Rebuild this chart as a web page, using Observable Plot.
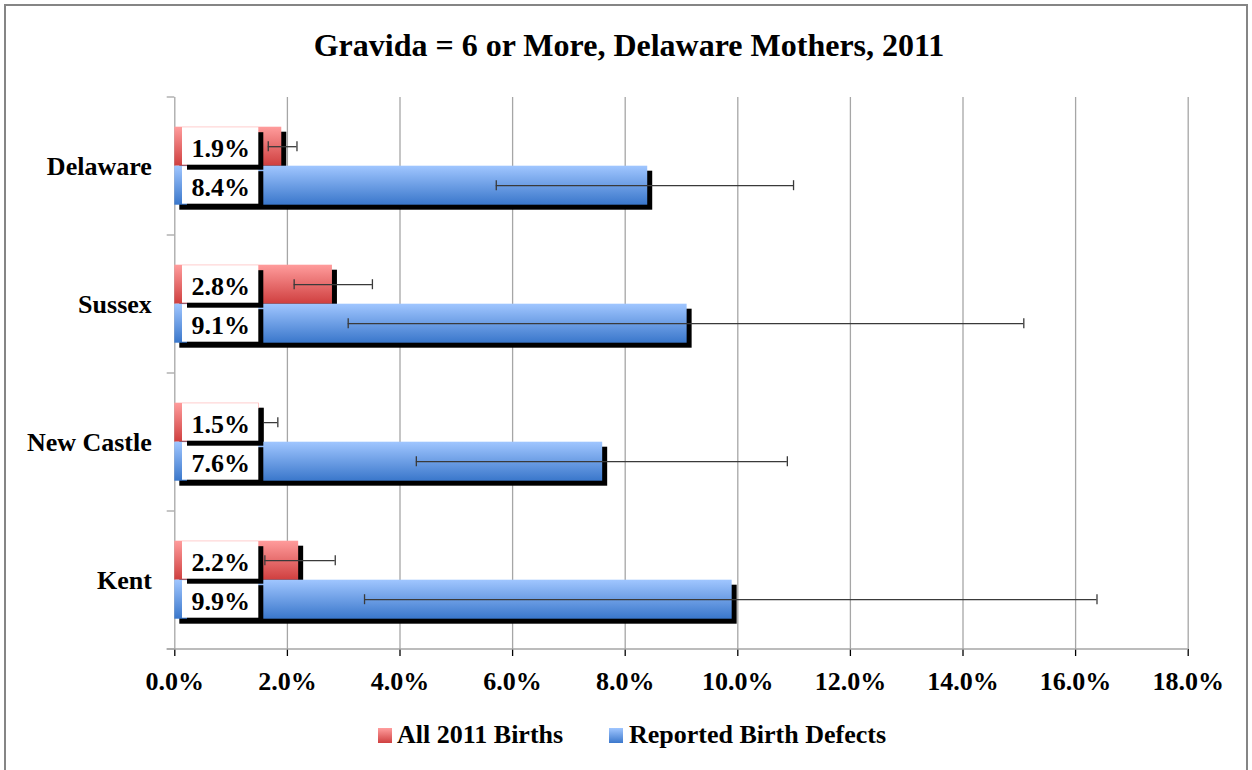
<!DOCTYPE html>
<html><head><meta charset="utf-8">
<script src="https://cdn.jsdelivr.net/npm/d3@7"></script>
<script src="https://cdn.jsdelivr.net/npm/@observablehq/plot@0.6"></script>
<style>
html,body{margin:0;padding:0;background:#fff;overflow:hidden;width:1252px;height:770px;}
#frame{position:absolute;left:4px;top:4px;width:1244px;height:800px;border:2px solid #858585;box-sizing:border-box;}
#chart{position:absolute;left:0;top:0;}
#title{position:absolute;top:29px;left:0;width:1258px;text-align:center;font:bold 32px/32px "Liberation Serif","Times New Roman",serif;color:#000;}
.lg{position:absolute;top:722px;font:bold 26px/26px "Liberation Serif","Times New Roman",serif;white-space:nowrap;color:#000;}
.sw{position:absolute;top:728px;width:14px;height:15px;}
</style>
</head><body>
<div id="frame"></div>
<div id="chart"></div>
<div id="title">Gravida = 6 or More, Delaware Mothers, 2011</div>
<div class="sw" style="left:378px;background:linear-gradient(#ff9e9e,#cf4040);"></div>
<div class="lg" style="left:397px;">All 2011 Births</div>
<div class="sw" style="left:609px;background:linear-gradient(#a0c6ff,#3c78cc);"></div>
<div class="lg" style="left:629px;">Reported Birth Defects</div>
<script>
const counties = ["Delaware", "Sussex", "New Castle", "Kent"];
const seriesNames = ["All 2011 Births", "Reported Birth Defects"];
const allBirths = [1.9, 2.8, 1.5, 2.2];
const allLow = [1.66, 2.12, 1.17, 1.60];
const allHigh = [2.17, 3.51, 1.83, 2.85];
const defects = [8.4, 9.1, 7.6, 9.9];
const defectsLow = [5.71, 3.08, 4.29, 3.37];
const defectsHigh = [10.99, 15.08, 10.88, 16.38];
const xTicks = [0, 2, 4, 6, 8, 10, 12, 14, 16, 18];

const rowsAll = counties.map((c, i) => ({county: c, series: seriesNames[0], value: allBirths[i], lo: allLow[i], hi: allHigh[i]}));
const rowsDef = counties.map((c, i) => ({county: c, series: seriesNames[1], value: defects[i], lo: defectsLow[i], hi: defectsHigh[i]}));
const rows = rowsAll.concat(rowsDef);

const grid = "#a6a6a6";
const err = "#3a3a3a";
const fmt = d => d.toFixed(1) + "%";

const plot = Plot.plot({
  width: 1252,
  height: 770,
  marginLeft: 174.3,
  marginRight: 64.3,
  marginTop: 95.3,
  marginBottom: 120.3,
  style: {fontFamily: '"Liberation Serif","Times New Roman",serif', fontSize: "26px", fontWeight: "bold", background: "transparent", color: "#000"},
  x: {domain: [0, 18], ticks: xTicks, tickFormat: fmt, tickSize: 7, tickPadding: 15, label: null},
  y: {domain: seriesNames, paddingInner: 0, paddingOuter: 0.7325, axis: null},
  fy: {domain: counties, padding: 0, axis: "left", label: null, tickSize: 0, tickPadding: 23},
  marks: [
    Plot.ruleX(xTicks, {stroke: grid, strokeWidth: 1.3}),
    Plot.barX(rows, {x: "value", y: "series", fy: "county", fill: "#000", dx: 5, dy: 5}),
    Plot.barX(rowsAll, {x: "value", y: "series", fy: "county", fill: "url(#gradRed)"}),
    Plot.barX(rowsDef, {x: "value", y: "series", fy: "county", fill: "url(#gradBlue)"}),
    Plot.ruleY(rows, {x1: "lo", x2: "hi", y: "series", fy: "county", stroke: err, strokeWidth: 1.3}),
    Plot.tickX(rows, {x: "lo", y: "series", fy: "county", stroke: err, strokeWidth: 1.3, insetTop: 14.5, insetBottom: 14.5}),
    Plot.tickX(rows, {x: "hi", y: "series", fy: "county", stroke: err, strokeWidth: 1.3, insetTop: 14.5, insetBottom: 14.5}),
    Plot.cell(rowsDef, {y: "series", fy: "county", fill: "#000", dx: 5, dy: 5, insetLeft: 7.7, insetRight: 929.4, insetTop: 0.5, insetBottom: 1}),
    Plot.cell(rowsDef, {y: "series", fy: "county", fill: "#fff", insetLeft: 7.7, insetRight: 929.4, insetTop: 0.5, insetBottom: 1}),
    Plot.cell(rowsAll, {y: "series", fy: "county", fill: "#000", dx: 5, dy: 5, insetLeft: 7.7, insetRight: 929.4, insetTop: 0.5, insetBottom: 1}),
    Plot.cell(rowsAll, {y: "series", fy: "county", fill: "#fff", insetLeft: 7.7, insetRight: 929.4, insetTop: 0.5, insetBottom: 1}),
    Plot.text(rows, {y: "series", fy: "county", text: d => fmt(d.value), frameAnchor: "left", textAnchor: "middle", dx: 46, dy: 1.5, fontSize: 26, fontWeight: "bold", fill: "#000"})
  ]
});

document.getElementById("chart").appendChild(plot);

const svg = d3.select(plot);
const defs = svg.insert("defs", ":first-child");
const gR = defs.append("linearGradient").attr("id", "gradRed").attr("x1", 0).attr("y1", 0).attr("x2", 0).attr("y2", 1);
gR.append("stop").attr("offset", "0%").attr("stop-color", "#ff9c9c");
gR.append("stop").attr("offset", "100%").attr("stop-color", "#cf3f3f");
const gB = defs.append("linearGradient").attr("id", "gradBlue").attr("x1", 0).attr("y1", 0).attr("x2", 0).attr("y2", 1);
gB.append("stop").attr("offset", "0%").attr("stop-color", "#a0c6ff");
gB.append("stop").attr("offset", "100%").attr("stop-color", "#3a77cb");

svg.selectAll('[aria-label="x-axis tick"]').attr("stroke", grid).attr("stroke-width", 1.3);

// axis line and category boundary ticks, from Plot's own scales
const xs = plot.scale("x");
const fys = plot.scale("fy");
const x0 = xs.apply(0), x18 = xs.apply(18);
const bounds = counties.map(c => fys.apply(c));
bounds.push(fys.apply(counties[counties.length - 1]) + fys.bandwidth);
const g = svg.append("g").attr("stroke", grid).attr("stroke-width", 1.3);
bounds.forEach(b => g.append("line").attr("x1", x0 - 7.6).attr("x2", x0).attr("y1", b).attr("y2", b));
const yb = bounds[bounds.length - 1];
g.append("line").attr("x1", x0 - 7.6).attr("x2", x18).attr("y1", yb).attr("y2", yb);
</script>
</body></html>
